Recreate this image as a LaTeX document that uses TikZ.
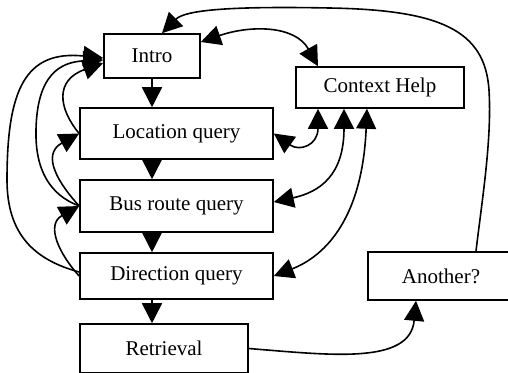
\documentclass[tikz,border=0pt]{standalone}
\usepackage{fontspec}
\setmainfont{Liberation Serif}
\usetikzlibrary{arrows.meta,calc}

\begin{document}
\begin{tikzpicture}[x=0.5pt, y=-0.5pt, line width=0.8pt, >={Triangle[length=10pt,width=10pt]}]
    \tikzstyle{state}=[draw, inner sep=0pt, font=\fontsize{10.5}{12}\selectfont]
    \useasboundingbox (0,0) rectangle (508,372);

    \node at (152,56) (intro) [state, minimum width=48pt, minimum height=22pt] {Intro};
    \node at (176.5,133.5) (loc) [state, minimum width=96.5pt, minimum height=25.5pt] {Location query};
    \node at (176.5,206) (bus) [state, minimum width=96.5pt, minimum height=26pt] {Bus route query};
    \node at (176.5,276) (dir) [state, minimum width=96.5pt, minimum height=23pt] {Direction query};
    \node at (164,348.5) (ret) [state, minimum width=84pt, minimum height=24.5pt] {Retrieval};
    \node at (380,87.5) (help) [state, minimum width=84pt, minimum height=20.5pt] {Context Help};
    \node at (441,276) (another) [state, minimum width=73pt, minimum height=24pt] {Another?};

    % main sequence
    \draw[->] (intro.south) -- (intro.south |- loc.north);
    \draw[->] (intro.south |- loc.south) -- (intro.south |- bus.north);
    \draw[->] (intro.south |- bus.south) -- (intro.south |- dir.north);
    \draw[->] (intro.south |- dir.south) -- (intro.south |- ret.north);

    % help links
    \draw[<->] ([yshift=7pt]intro.east) .. controls (250,25) and (295,25) .. ([xshift=-31pt]help.north);
    \draw[<->] (loc.east) .. controls (300,152) and (318,145) .. ([xshift=-31pt]help.south);
    \draw[<->] ([yshift=2pt]bus.east) .. controls (320,192) and (344,175) .. ([xshift=-18pt]help.south);
    \draw[<->] (dir.east) .. controls (320,258) and (362,225) .. ([xshift=-6.5pt]help.south);

    % retrieval and loop back
    \draw[->] (ret.east) .. controls (330,355) and (410,365) .. ([xshift=-12.5pt]another.south);
    \draw[->] ([xshift=17.5pt]another.north) .. controls (482,200) and (492,140) .. (489,90)
        .. controls (485,30) and (440,10) .. (330,8)
        .. controls (230,6) and (185,10) .. ([xshift=5pt]intro.north);

    % going back
    \draw[->] (loc.west) .. controls (58,108) and (55,80) .. ([yshift=-3.5pt]intro.west);
    \draw[->] (bus.west) .. controls (50,195) and (35,170) .. (36,130)
        .. controls (37,75) and (60,62) .. ([yshift=-2pt]intro.west);
    \draw[->] ([yshift=2pt]dir.west) .. controls (35,260) and (7,235) .. (7,180)
        .. controls (7,90) and (25,50) .. ([yshift=-1pt]intro.west);
    \draw[->] (bus.west) .. controls (60,185) and (40,155) .. (loc.west);
    \draw[->] (dir.west) .. controls (60,255) and (45,225) .. (bus.west);

\end{tikzpicture}
\end{document}
